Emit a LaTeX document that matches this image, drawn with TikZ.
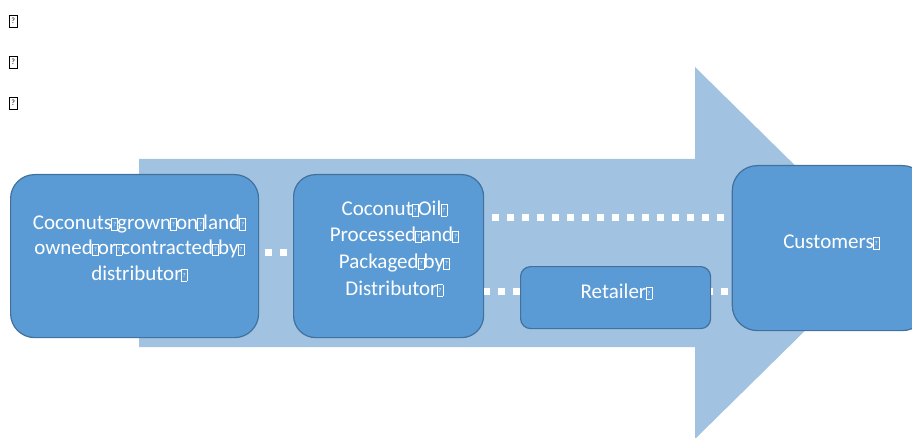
\documentclass[tikz,border=0pt]{standalone}
\usepackage{fontspec}
\setmainfont{Carlito}
\definecolor{arrowblue}{HTML}{A2C2E1}
\definecolor{boxblue}{HTML}{5B9BD5}
\definecolor{boxedge}{HTML}{41719C}
\newcommand\notdefbox[4]{{\fboxsep=0pt\fboxrule=#3\fbox{\vbox to #2{\vss\hbox to #1{\hss\fontsize{#4}{#4}\selectfont ?\hss}\vss}}}}
\newcommand\nd{\makebox[5pt][c]{\raisebox{-0.5pt}{\notdefbox{5.5pt}{11pt}{0.5pt}{6}}}}
\tikzset{
  box/.style={draw=boxedge, fill=boxblue, line width=1.2pt, rounded corners=#1, inner sep=0pt, anchor=north west},
  txt/.style={text=white, align=center, inner sep=0pt},
  dots/.style={draw=white, line width=7pt, dash pattern=on 7pt off 8pt},
  glyph/.style={inner sep=0pt}
}
\begin{document}
\begin{tikzpicture}[x=1pt,y=-1pt]
\useasboundingbox (0,0) rectangle (912,438);
% big arrow
\fill[arrowblue] (139,159) -- (695,159) -- (695,67) -- (884,253) -- (695,439) -- (695,347) -- (139,347) -- cycle;
% placeholder glyphs top left
\node[glyph] (q1) at (13.3,21) {\notdefbox{7.5pt}{11.5pt}{0.7pt}{8}};
\node[glyph] (q2) at (13.3,62) {\notdefbox{7.5pt}{11.5pt}{0.7pt}{8}};
\node[glyph] (q3) at (13.3,103) {\notdefbox{7.5pt}{11.5pt}{0.7pt}{8}};
% boxes
\node[box=24pt, minimum width=248pt, minimum height=163pt] (b1) at (10,174) {};
\node[box=22pt, minimum width=190pt, minimum height=163pt] (b2) at (293,174) {};
\node[box=10pt, minimum width=190pt, minimum height=62pt] (rt) at (520,266) {};
\node[box=25pt, minimum width=195pt, minimum height=165pt] (cu) at (731.7,165) {};
% connectors
\coordinate (ya) at (0,252.7);
\coordinate (yb) at (0,217.3);
\coordinate (yc) at (0,291.5);
\draw[dots, dash phase=9pt] (b1.east |- ya) -- (b2.west |- ya);
\draw[dots, dash phase=7.3pt] (b2.east |- yb) -- (cu.west |- yb);
\draw[dots, dash phase=1.3pt] (b2.east |- yc) -- (rt.west |- yc);
\draw[dots, dash phase=5.7pt] (rt.east |- yc) -- (cu.west |- yc);
% texts
\node[txt, anchor=north, font=\fontsize{21}{25.5}\selectfont] (t1) at (139,213)
  {\rule{0pt}{16pt}Coconuts\nd grown\nd on\nd land\nd\\owned\nd or\nd contracted\nd by\nd\\distributor\nd};
\node[txt, anchor=north, font=\fontsize{21}{26.7}\selectfont] (t2) at (394,199)
  {\rule{0pt}{16pt}Coconut\nd Oil\nd\\Processed\nd and\nd\\Packaged\nd by\nd\\Distributor\nd};
\node[txt, anchor=base, font=\fontsize{21}{25}\selectfont] (t3) at (616,298) {Retailer\nd};
\node[txt, anchor=base, font=\fontsize{21}{25}\selectfont] (t4) at (831,248) {Customers\nd};
\end{tikzpicture}
\end{document}
